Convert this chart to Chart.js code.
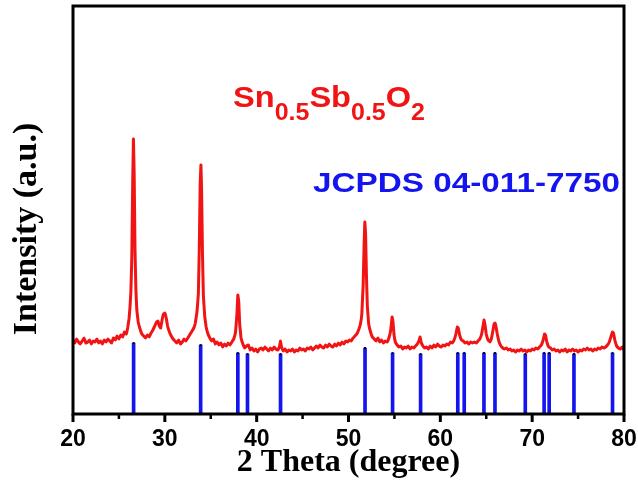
<!DOCTYPE html>
<html>
<head>
<meta charset="utf-8">
<script src="https://cdn.jsdelivr.net/npm/chart.js@4.4.1/dist/chart.umd.min.js"></script>
<style>
  html, body { margin: 0; padding: 0; background: #fff; }
  #wrap { width: 638px; height: 495px; position: relative; }
</style>
</head>
<body>
<div id="wrap"><canvas id="xrd"></canvas></div>
<script>
// measured pattern, 2θ in degrees, intensity in a.u.
const twoTheta = [
  20.0, 20.2, 20.4, 20.6, 20.8, 21.0, 21.2, 21.4, 21.6, 21.8, 22.0, 22.2, 22.4, 22.6, 22.8, 23.0, 23.2, 23.4, 23.6, 23.8,
  24.0, 24.2, 24.4, 24.6, 24.8, 25.0, 25.2, 25.4, 25.6, 25.8, 25.95, 26.1, 26.2, 26.3, 26.4, 26.5, 26.58, 26.66, 26.75, 26.85,
  26.95, 27.1, 27.3, 27.5, 27.7, 27.9, 28.1, 28.3, 28.5, 28.7, 28.9, 29.1, 29.25, 29.4, 29.55, 29.7, 29.85, 30.0, 30.15, 30.3,
  30.5, 30.7, 30.9, 31.1, 31.3, 31.5, 31.7, 31.9, 32.1, 32.3, 32.5, 32.7, 32.9, 33.1, 33.3, 33.5, 33.65, 33.75, 33.85, 33.93,
  34.0, 34.1, 34.2, 34.35, 34.5, 34.7, 34.9, 35.1, 35.3, 35.5, 35.7, 35.9, 36.1, 36.3, 36.5, 36.7, 36.9, 37.1, 37.3, 37.5,
  37.7, 37.85, 37.95, 38.05, 38.15, 38.3, 38.5, 38.7, 38.9, 39.1, 39.3, 39.5, 39.7, 39.9, 40.1, 40.3, 40.5, 40.7, 40.9, 41.1,
  41.3, 41.5, 41.7, 41.9, 42.1, 42.3, 42.5, 42.6, 42.7, 42.9, 43.1, 43.3, 43.5, 43.7, 43.9, 44.1, 44.3, 44.5, 44.7, 44.9,
  45.1, 45.3, 45.5, 45.7, 45.9, 46.1, 46.3, 46.5, 46.7, 46.9, 47.1, 47.3, 47.5, 47.7, 47.9, 48.1, 48.3, 48.5, 48.7, 48.9,
  49.1, 49.3, 49.5, 49.7, 49.9, 50.1, 50.3, 50.5, 50.7, 50.9, 51.1, 51.3, 51.45, 51.6, 51.7, 51.78, 51.86, 51.95, 52.05, 52.2,
  52.4, 52.6, 52.8, 53.0, 53.2, 53.4, 53.6, 53.8, 54.0, 54.2, 54.4, 54.6, 54.75, 54.85, 54.95, 55.1, 55.3, 55.5, 55.7, 55.9,
  56.1, 56.3, 56.5, 56.7, 56.9, 57.1, 57.3, 57.5, 57.7, 57.8, 57.9, 58.1, 58.3, 58.5, 58.7, 58.9, 59.1, 59.3, 59.5, 59.7,
  59.9, 60.1, 60.3, 60.5, 60.7, 60.9, 61.1, 61.3, 61.5, 61.7, 61.85, 61.95, 62.1, 62.3, 62.5, 62.7, 62.9, 63.1, 63.3, 63.5,
  63.7, 63.9, 64.1, 64.3, 64.5, 64.65, 64.75, 64.85, 65.0, 65.2, 65.4, 65.55, 65.7, 65.85, 65.95, 66.05, 66.2, 66.4, 66.6, 66.8,
  67.0, 67.2, 67.4, 67.6, 67.8, 68.0, 68.2, 68.4, 68.6, 68.8, 69.0, 69.2, 69.4, 69.6, 69.8, 70.0, 70.2, 70.4, 70.6, 70.8,
  71.0, 71.2, 71.35, 71.45, 71.6, 71.8, 72.0, 72.2, 72.4, 72.6, 72.8, 73.0, 73.2, 73.4, 73.6, 73.8, 74.0, 74.2, 74.4, 74.6,
  74.8, 75.0, 75.2, 75.4, 75.6, 75.8, 76.0, 76.2, 76.4, 76.6, 76.8, 77.0, 77.2, 77.4, 77.6, 77.8, 78.0, 78.2, 78.4, 78.6,
  78.75, 78.85, 79.0, 79.2, 79.4, 79.6, 79.8, 80.0
];
const intensity = [
  74, 71, 75, 72, 70, 73, 76, 71, 72, 74, 70, 73, 72, 75, 71, 73, 70, 74, 72, 75,
  73, 71, 76, 74, 78, 75, 79, 77, 82, 80, 86, 95, 106, 122, 155, 230, 275, 240, 165, 124,
  104, 92, 85, 80, 78, 76, 79, 77, 81, 84, 88, 92, 93, 88, 86, 94, 100, 101, 96, 88,
  82, 78, 75, 73, 71, 74, 70, 72, 75, 73, 76, 79, 82, 85, 90, 102, 120, 165, 230, 249,
  225, 160, 118, 97, 87, 80, 76, 73, 75, 70, 72, 69, 71, 67, 70, 68, 71, 69, 72, 75,
  82, 100, 119, 112, 90, 76, 70, 66, 68, 69, 64, 66, 63, 65, 62, 65, 66, 64, 67, 65,
  63, 66, 64, 67, 65, 64, 68, 73, 67, 63, 65, 62, 64, 63, 65, 62, 64, 63, 66, 64,
  65, 63, 66, 65, 67, 64, 66, 68, 66, 69, 67, 66, 69, 67, 70, 68, 67, 70, 68, 71,
  69, 72, 70, 73, 72, 74, 73, 76, 78, 80, 84, 90, 100, 130, 170, 192, 180, 140, 108, 90,
  82, 77, 75, 73, 76, 72, 74, 71, 73, 72, 76, 84, 97, 92, 80, 72, 69, 67, 68, 65,
  67, 66, 68, 65, 67, 66, 68, 70, 74, 77, 72, 68, 66, 67, 65, 68, 66, 69, 67, 70,
  68, 67, 69, 68, 70, 69, 72, 71, 74, 80, 87, 86, 79, 74, 73, 71, 72, 70, 72, 71,
  72, 71, 73, 75, 80, 88, 94, 90, 80, 74, 72, 75, 82, 90, 91, 88, 80, 72, 68, 66,
  65, 66, 64, 65, 63, 64, 62, 64, 63, 65, 63, 64, 62, 64, 63, 65, 64, 66, 65, 67,
  69, 74, 80, 79, 72, 67, 66, 64, 65, 63, 64, 62, 64, 63, 65, 62, 64, 63, 65, 63,
  64, 62, 64, 63, 65, 64, 66, 64, 65, 63, 65, 64, 66, 65, 67, 66, 67, 69, 72, 78,
  82, 81, 74, 68, 66, 65, 67, 64
];

// reference card JCPDS 04-011-7750: line positions and stick heights
const refPositions = [26.6, 33.9, 37.95, 39.0, 42.6, 51.8, 54.8, 57.85, 61.9, 62.6, 64.75, 65.95, 69.25, 71.3, 71.85, 74.55, 78.75];
const refHeights = [71, 69, 61, 60, 60, 66, 61, 60, 61, 61, 61, 61, 60, 61, 61, 60, 61];

const xTicks = [20, 30, 40, 50, 60, 70, 80];

const RED = '#f01414';
const BLUE = '#1414ee';

const patternPoints = twoTheta.map((t, i) => ({ x: t, y: intensity[i] }));
const refPoints = refPositions.map((t, i) => ({ x: t, y: refHeights[i] }));

// draws text stretched horizontally to a given width
function stretchedText(ctx, parts, x, baseline, width) {
  let natural = 0;
  for (const p of parts) {
    ctx.font = p.font;
    natural += ctx.measureText(p.text).width;
  }
  const sx = width / natural;
  ctx.save();
  ctx.translate(x, baseline);
  ctx.scale(sx, 1);
  let cx = 0;
  for (const p of parts) {
    ctx.font = p.font;
    ctx.fillText(p.text, cx, p.dy || 0);
    cx += ctx.measureText(p.text).width;
  }
  ctx.restore();
}

const frameAndLabels = {
  id: 'frameAndLabels',
  afterDatasetsDraw(chart) {
    const { ctx, chartArea: a, scales } = chart;
    const xs = scales.x;
    ctx.save();
    ctx.strokeStyle = '#000';

    // tick marks below the axis, majors every 10, minors every 5
    for (let v = 20; v <= 80; v += 5) {
      const px = xs.getPixelForValue(v);
      const major = v % 10 === 0;
      ctx.lineWidth = major ? 3 : 2.5;
      ctx.beginPath();
      ctx.moveTo(px, a.bottom);
      ctx.lineTo(px, a.bottom + (major ? 8 : 5));
      ctx.stroke();
    }

    // box
    ctx.lineWidth = 3;
    ctx.strokeRect(a.left, a.top, a.right - a.left, a.bottom - a.top);

    // sample formula
    ctx.fillStyle = RED;
    ctx.textBaseline = 'alphabetic';
    const big = 'bold 30px "Liberation Sans", Arial, sans-serif';
    const sub = 'bold 23px "Liberation Sans", Arial, sans-serif';
    stretchedText(ctx, [
      { text: 'Sn', font: big },
      { text: '0.5', font: sub, dy: 13 },
      { text: 'Sb', font: big },
      { text: '0.5', font: sub, dy: 13 },
      { text: 'O', font: big },
      { text: '2', font: sub, dy: 13 }
    ], 233, 107, 192);

    // reference card label
    ctx.fillStyle = BLUE;
    stretchedText(ctx, [
      { text: 'JCPDS 04-011-7750', font: 'bold 27px "Liberation Sans", Arial, sans-serif' }
    ], 313, 192, 307);

    // y axis title
    ctx.fillStyle = '#000';
    ctx.font = 'bold 34px "Liberation Serif", "Times New Roman", serif';
    ctx.textAlign = 'center';
    ctx.textBaseline = 'middle';
    ctx.translate(27, 229);
    ctx.rotate(-Math.PI / 2);
    ctx.fillText('Intensity (a.u.)', 0, 0);
    ctx.restore();
  }
};

new Chart('xrd', {
  type: 'line',
  plugins: [frameAndLabels],
  data: {
    datasets: [
      {
        label: 'Sn0.5Sb0.5O2',
        data: patternPoints,
        borderColor: RED,
        borderWidth: 3,
        borderJoinStyle: 'round',
        pointRadius: 0,
        // a touch of tension keeps the full path renderer (no pixel-column collapsing on sharp peaks)
        tension: 0.05,
        order: 0
      },
      {
        type: 'bar',
        label: 'JCPDS 04-011-7750',
        data: refPoints,
        backgroundColor: BLUE,
        borderWidth: 0,
        barThickness: 3,
        order: 2
      },
      {
        type: 'scatter',
        label: 'stick tops',
        data: refPoints,
        pointStyle: 'rect',
        pointRadius: 1.3,
        pointBackgroundColor: '#000',
        pointBorderWidth: 0,
        order: 1
      }
    ]
  },
  options: {
    responsive: true,
    maintainAspectRatio: false,
    animation: false,
    layout: {
      padding: { left: 73, top: 6, right: 14, bottom: 0 }
    },
    plugins: {
      legend: { display: false },
      tooltip: { enabled: false }
    },
    scales: {
      x: {
        type: 'linear',
        min: 20,
        max: 80,
        offset: false,
        // invisible grid, only used to space the labels from the axis
        grid: { display: true, drawOnChartArea: false, drawTicks: true, tickLength: 12, color: 'rgba(0,0,0,0)' },
        border: { display: false },
        afterBuildTicks: (scale) => {
          scale.ticks = xTicks.map(v => ({ value: v }));
        },
        afterFit: (scale) => { scale.height = 81; },
        ticks: {
          autoSkip: false,
          maxRotation: 0,
          padding: 0,
          color: '#000',
          font: { family: '"Liberation Sans", Arial, sans-serif', size: 23, weight: 'bold' }
        },
        title: {
          display: true,
          text: '2 Theta (degree)',
          color: '#000',
          padding: { top: 0, bottom: 13 },
          font: { family: '"Liberation Serif", "Times New Roman", serif', size: 32, weight: 'bold' }
        }
      },
      y: {
        display: false,
        min: 0,
        max: 408
      }
    }
  }
});
</script>
</body>
</html>
